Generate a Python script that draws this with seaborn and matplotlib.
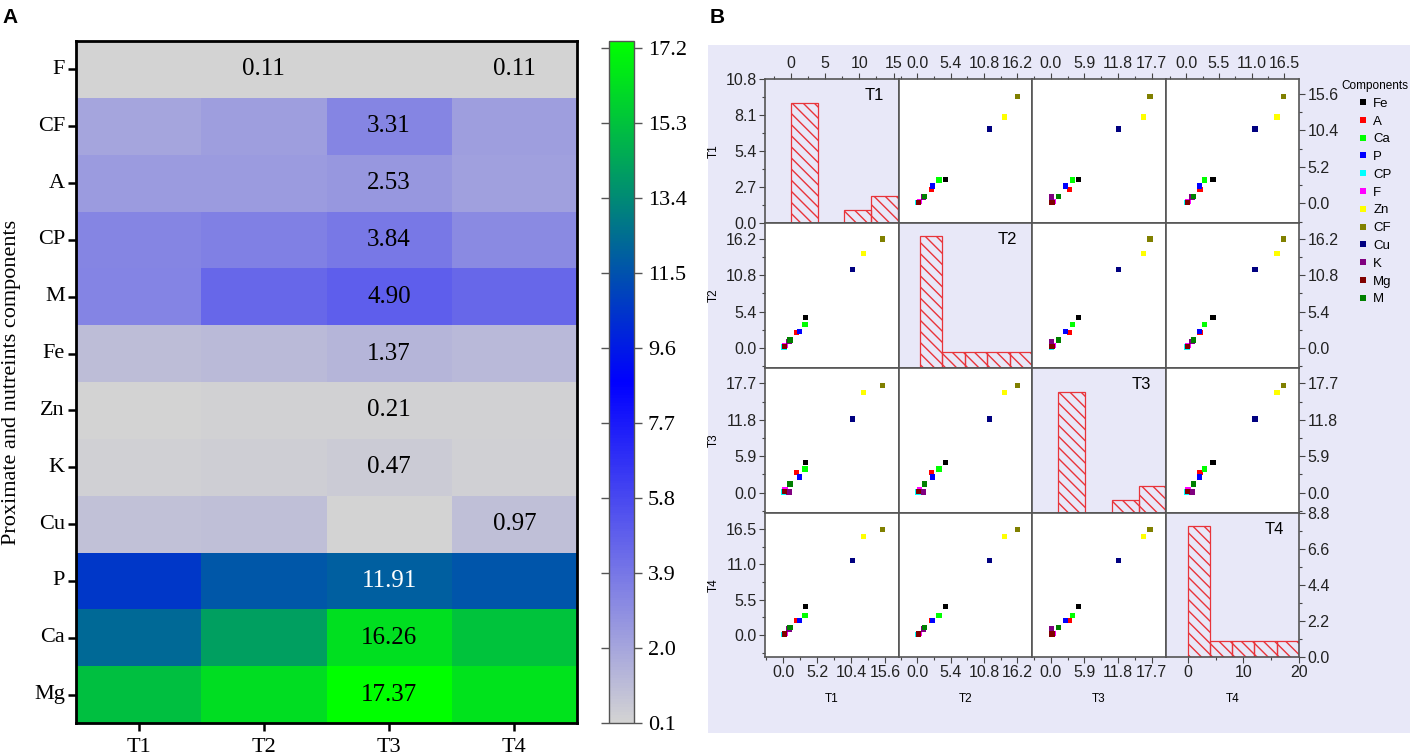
import numpy as np
import pandas as pd
import matplotlib
matplotlib.use('Agg')
import matplotlib.pyplot as plt
import seaborn as sns
from matplotlib.colors import LinearSegmentedColormap
from matplotlib.ticker import AutoMinorLocator, FixedLocator, FormatStrFormatter
from matplotlib.patches import Rectangle

# ---------------- data ----------------
components = ['F', 'CF', 'A', 'CP', 'M', 'Fe', 'Zn', 'K', 'Cu', 'P', 'Ca', 'Mg']
treatments = ['T1', 'T2', 'T3', 'T4']
T1 = [0.10, 2.00, 2.45, 3.30, 3.40, 1.00, 0.15, 0.25, 0.90, 10.60, 12.30, 15.20]
T2 = [0.11, 2.30, 2.40, 3.50, 4.55, 1.15, 0.18, 0.35, 0.95, 11.70, 14.10, 16.20]
T3 = [0.10, 3.31, 2.53, 3.84, 4.90, 1.37, 0.21, 0.47, 0.10, 11.91, 16.26, 17.37]
T4 = [0.11, 2.30, 2.25, 3.10, 4.50, 1.20, 0.17, 0.30, 0.97, 11.60, 15.30, 16.40]

# panel B legend labels and the heatmap row each one draws from
scatter_labels = ['Fe', 'A', 'Ca', 'P', 'CP', 'F', 'Zn', 'CF', 'Cu', 'K', 'Mg', 'M']
scatter_source = ['M', 'CF', 'CP', 'A', 'F', 'K', 'Ca', 'Mg', 'P', 'Cu', 'Zn', 'Fe']
scatter_colors = ['#000000', '#ff0000', '#00ff00', '#0000ff', '#00ffff', '#ff00ff',
                  '#ffff00', '#808000', '#000080', '#800080', '#800000', '#008000']

hist_bins = {'T1': [0, 3.9, 7.8, 11.7, 15.6],
             'T2': [0, 4, 8, 12, 16, 20],
             'T3': [0, 5, 10, 15, 20],
             'T4': [0, 4, 8, 12, 16, 20]}

df = pd.DataFrame({'T1': T1, 'T2': T2, 'T3': T3, 'T4': T4}, index=components)

# ---------------- style ----------------
SERIF = 'Liberation Serif'
SANS = ['Liberation Sans', 'DejaVu Sans']
plt.rcParams['font.family'] = SANS

W, H = 1418, 755
fig = plt.figure(figsize=(W / 100, H / 100), dpi=100)


def box(x0, y0, x1, y1):
    return [x0 / W, 1 - y1 / H, (x1 - x0) / W, (y1 - y0) / H]


# ---------------- panel A: heatmap ----------------
axA = fig.add_axes(box(76, 41, 577, 723))
cax = fig.add_axes(box(609, 41, 634, 723))
cmap = LinearSegmentedColormap.from_list('gbg', ['#d3d3d3', '#0000ff', '#00ff00'])
vmin, vmax = 0.1, float(df.values.max())
vals = df.values
rowmax = vals.max(axis=1, keepdims=True)
annot = np.where(vals == rowmax, np.vectorize(lambda v: f'{v:.2f}')(vals), '')

sns.heatmap(df, ax=axA, cmap=cmap, vmin=vmin, vmax=vmax, annot=annot, fmt='',
            annot_kws={'fontsize': 18, 'family': SERIF},
            cbar_ax=cax, cbar_kws={'ticks': np.arange(0.1, 17.3, 1.9)})

norm = plt.Normalize(vmin, vmax)
for txt in axA.texts:
    x, y = txt.get_position()
    v = vals[int(y), int(x)]
    r, g, b, _ = cmap(norm(v))
    txt.set_color('white' if 0.299 * r + 0.587 * g + 0.114 * b < 0.35 else 'black')

for sp in axA.spines.values():
    sp.set_visible(True)
    sp.set_linewidth(2)
    sp.set_color('black')
axA.tick_params(axis='both', length=6, width=1.8, direction='out', labelsize=16,
                labelfontfamily=SERIF, color='black', pad=2)
axA.tick_params(axis='x', pad=5)
axA.set_yticklabels(components, rotation=0)
axA.set_xticklabels(treatments, rotation=0)
axA.set_xlabel('')
axA.set_ylabel('')
fig.text(12 / W, 1 - 382 / H, 'Proximate and nutreints components', rotation=90,
         ha='center', va='center', fontsize=16, family=SERIF)

cbar = axA.collections[0].colorbar
cbar.outline.set_edgecolor('#555555')
cbar.outline.set_linewidth(1)
cax.yaxis.set_major_formatter(FormatStrFormatter('%.1f'))
cax.tick_params(left=True, right=True, length=6, width=1, color='#555555',
                labelsize=16, labelfontfamily=SERIF, pad=4)

fig.text(2 / W, 1 - 17.5 / H, 'A', ha='left', va='center', fontsize=15, weight='bold')
fig.text(710 / W, 1 - 17.5 / H, 'B', ha='left', va='center', fontsize=15, weight='bold')

# ---------------- panel B: scatter matrix ----------------
BG = '#e8e8f8'
fig.patches.append(Rectangle((708 / W, 1 - 733 / H), 702 / W, 688 / H,
                             transform=fig.transFigure, facecolor=BG,
                             edgecolor='none', zorder=-10))

sdf = pd.DataFrame({'Component': scatter_labels})
for t in treatments:
    sdf[t] = [df.loc[s, t] for s in scatter_source]
palette = dict(zip(scatter_labels, scatter_colors))

data_lim = {'T1': (-2.8, 17.7), 'T2': (-3.0, 18.6), 'T3': (-3.3, 20.2), 'T4': (-3.4, 19.0)}
data_ticks = {'T1': [0, 5.2, 10.4, 15.6], 'T2': [0, 5.4, 10.8, 16.2],
              'T3': [0, 5.9, 11.8, 17.7], 'T4': [0, 5.5, 11.0, 16.5]}
hist_xlim = {'T1': (-3.8, 15.8), 'T2': (-3.75, 20), 'T3': (-4.9, 20.1), 'T4': (-3.9, 20)}
hist_xticks = {'T1': [0, 5, 10, 15], 'T2': [0, 10, 20], 'T3': [0, 10, 20], 'T4': [0, 10, 20]}
hist_ymax = {'T1': 10.8, 'T2': 8.8, 'T3': 10.8, 'T4': 8.8}

xe = [765, 899, 1032, 1166, 1299]
ye = [79, 223, 368, 513, 657]
handles = labels = None
for i, ti in enumerate(treatments):
    for j, tj in enumerate(treatments):
        ax = fig.add_axes(box(xe[j], ye[i], xe[j + 1], ye[i + 1]))
        ax.set_zorder(2)
        if i == j:
            ax.set_facecolor(BG)
            sns.histplot(x=df[ti].values, bins=hist_bins[ti], ax=ax, color='red')
            for p in ax.patches:
                p.set_facecolor('none')
                p.set_edgecolor('#e8343a')
                p.set_hatch('\\\\\\')
                p.set_linewidth(0.9)
            ax.set_xlim(*hist_xlim[ti])
            ax.set_ylim(0, hist_ymax[ti])
            ax.xaxis.set_major_locator(FixedLocator(hist_xticks[ti]))
            ax.xaxis.set_major_formatter(FormatStrFormatter('%d'))
            ax.yaxis.set_major_locator(FixedLocator(np.linspace(0, hist_ymax[ti], 5)))
            ax.yaxis.set_major_formatter(FormatStrFormatter('%.1f'))
            ax.text(0.89, 0.885, ti, transform=ax.transAxes, ha='right', va='center',
                    fontsize=12)
        else:
            ax.set_facecolor('white')
            sns.scatterplot(data=sdf, x=tj, y=ti, hue='Component', hue_order=scatter_labels,
                            palette=palette, marker='s', s=15, linewidth=0, ax=ax,
                            legend=(i == 0 and j == 1))
            if i == 0 and j == 1:
                handles, labels = ax.get_legend_handles_labels()
                ax.get_legend().remove()
            ax.set_xlim(*data_lim[tj])
            ax.set_ylim(*data_lim[ti])
            ax.xaxis.set_major_locator(FixedLocator(data_ticks[tj]))
            ax.yaxis.set_major_locator(FixedLocator(data_ticks[ti]))
            ax.xaxis.set_major_formatter(FormatStrFormatter('%.1f'))
            ax.yaxis.set_major_formatter(FormatStrFormatter('%.1f'))
        ax.xaxis.set_minor_locator(AutoMinorLocator(2))
        ax.yaxis.set_minor_locator(AutoMinorLocator(2))
        ax.set_xlabel('')
        ax.set_ylabel('')
        for sp in ax.spines.values():
            sp.set_color('#555555')
            sp.set_linewidth(1.2)
        ax.tick_params(which='both', top=False, bottom=False, left=False, right=False,
                       labeltop=False, labelbottom=False, labelleft=False, labelright=False,
                       direction='out', color='#444444', width=0.8,
                       labelsize=11.5, labelcolor='#222222', pad=2)
        ax.tick_params(which='major', length=4)
        ax.tick_params(which='minor', length=2)
        if i == 0:
            ax.tick_params(which='both', top=True, labeltop=True)
        if i == 3:
            ax.tick_params(which='both', bottom=True, labelbottom=True)
            ax.set_xlabel(tj, fontsize=8.5, labelpad=9)
        if j == 0:
            ax.tick_params(which='both', left=True, labelleft=True)
            ax.set_ylabel(ti, fontsize=8.5, labelpad=4)
        if j == 3:
            ax.tick_params(which='both', right=True, labelright=True)

fig.legend(handles, labels, title='Components', loc='upper left',
           bbox_to_anchor=(1341 / W, 1 - 80 / H), frameon=False,
           title_fontsize=8.5, labelspacing=0.42, handletextpad=0.4,
           handlelength=0.8, borderpad=0, borderaxespad=0, fontsize=9.5)

fig.savefig('out.png', dpi=100)
